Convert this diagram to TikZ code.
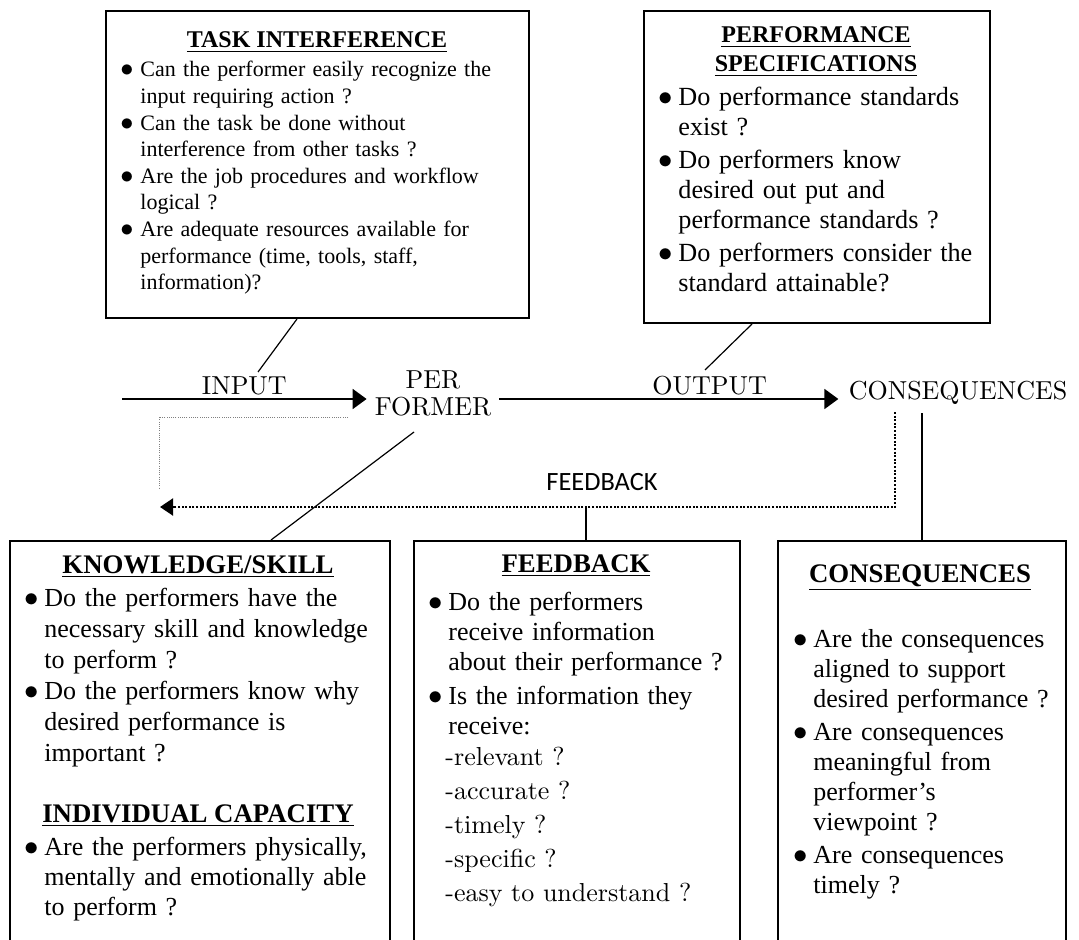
\documentclass[tikz,border=0pt]{standalone}
\usepackage{fontspec}
\setmainfont{Liberation Serif}
\newfontfamily\lmfont[Extension=.otf]{lmroman10-regular}
\newfontfamily\calfont{Carlito}
\usetikzlibrary{arrows.meta}

\newlength{\bind}
\setlength{\bind}{8.5pt}
\newcommand{\bitem}[1]{\hangindent=\bind\hangafter=1\noindent\makebox[\bind][l]{\hspace{-1.5pt}\scalebox{1.2}{$\bullet$}}#1\par}

\tikzset{
  qbox/.style={draw, line width=1pt, anchor=north west, inner sep=0pt},
  ttl/.style={font=\fontsize{12}{14.5}\selectfont\bfseries, anchor=base, inner sep=0pt},
  btl/.style={font=\fontsize{13.4}{16}\selectfont\bfseries, anchor=base, inner sep=0pt},
  qlist/.style={anchor=base west, inner sep=0pt, text width=#1, align=left},
  mid/.style={font=\lmfont\fontsize{13}{13.5}\selectfont, inner sep=0pt},
  arr/.style={line width=1pt, -{Triangle[length=7pt,width=10pt]}},
  conn/.style={line width=0.6pt},
}

\begin{document}
\begin{tikzpicture}[x=0.5pt,y=-0.5pt]
\useasboundingbox (0,0) rectangle (1079,940);

% upper boxes
\node[qbox, minimum width=211.5pt, minimum height=153.5pt] (ti) at (105,10) {};
\node[ttl] (tititle) at (317,48) {\underline{TASK INTERFERENCE}};
\node[qlist=205pt, font=\fontsize{11}{13.3}\selectfont] (tilist) at (123,77) {%
  \bitem{Can the performer easily recognize the\newline input requiring action ?}
  \bitem{Can the task be done without\newline interference from other tasks ?}
  \bitem{Are the job procedures and workflow\newline logical ?}
  \bitem{Are adequate resources available for\newline performance (time, tools, staff,\newline information)?}};

\node[qbox, minimum width=173pt, minimum height=156pt] (ps) at (643,10) {};
\node[ttl, text width=170pt, align=center] (pstitle) at (816,43) {\underline{PERFORMANCE}\\\underline{SPECIFICATIONS}};
\node[qlist=200pt, font=\fontsize{13.1}{15}\selectfont] (pslist) at (661,106) {%
  \setlength\parskip{1.5pt}%
  \bitem{Do performance standards\newline exist ?}
  \bitem{Do performers know\newline desired out put and\newline performance standards ?}
  \bitem{Do performers consider the\newline standard attainable?}};

% flow line
\node[mid, text width=66pt, align=center, anchor=base] (performer) at (433,388) {PER\\FORMER};
\node[mid, inner xsep=5pt, anchor=base] (conseq) at (958,400) {CONSEQUENCES};
\coordinate (instart) at (122,399);
\draw[arr] (instart) -- node[mid, anchor=base, yshift=2.5pt] (input) {INPUT} (performer.west |- instart);
\draw[arr] (performer.east |- instart) -- node[mid, pos=0.62, anchor=base, yshift=2.5pt] (output) {OUTPUT} (conseq.west |- instart);

\coordinate (tihook) at (258,372);
\coordinate (pshook) at (705,370);
\draw[conn] ([xshift=96pt]ti.south west) -- (tihook);
\draw[conn] ([xshift=54.5pt]ps.south west) -- (pshook);

% feedback loop
\coordinate (grayA) at (348,417);
\coordinate (grayB) at (159,488);
\draw[gray, line width=0.5pt, dash pattern=on 0.5pt off 0.6pt] (grayA) -| (grayB);
\coordinate (fbtop) at (895,412);
\coordinate (fbtip) at (160,507);
\draw[line width=1pt, dash pattern=on 1pt off 0.8pt, -{Triangle[length=6.5pt,width=8.5pt]}] (fbtop) |- (fbtip);
\node[font=\calfont\fontsize{13.2}{15}\selectfont, anchor=base, inner sep=0pt] (fblabel) at (602,490) {FEEDBACK};

% lower boxes
\node[qbox, minimum width=190pt, minimum height=215pt] (kbox) at (9,540) {};
\node[btl] (ktitle) at (198,573) {\underline{KNOWLEDGE/SKILL}};
\node[qlist=200pt, font=\fontsize{13}{15.5}\selectfont] (klist) at (27,606) {%
  \bitem{Do the performers have the\newline necessary skill and knowledge\newline to perform ?}
  \bitem{Do the performers know why\newline desired performance is\newline important ?}};
\node[btl] (ictitle) at (198,822) {\underline{INDIVIDUAL CAPACITY}};
\node[qlist=200pt, font=\fontsize{13}{15}\selectfont] (iclist) at (27,855) {%
  \bitem{Are the performers physically,\newline mentally and emotionally able\newline to perform ?}};

\node[qbox, minimum width=163pt, minimum height=215pt] (fbox) at (413,540) {};
\node[btl] (ftitle) at (576,572) {\underline{FEEDBACK}};
\node[qlist=200pt, font=\fontsize{13}{15}\selectfont] (flist) at (431,610) {%
  \setlength\parskip{2pt}%
  \bitem{Do the performers\newline receive information\newline about their performance ?}
  \bitem{Is the information they\newline receive:}};
\node[qlist=150pt, font=\lmfont\fontsize{13}{17}\selectfont] (fdash) at (445,765) {%
  -relevant ?\\-accurate ?\\-timely ?\\-specific ?\\-easy to understand ?};

\node[qbox, minimum width=144pt, minimum height=215pt] (cbox) at (777,540) {};
\node[btl] (ctitle) at (920,582) {\underline{CONSEQUENCES}};
\node[qlist=200pt, font=\fontsize{13}{15}\selectfont] (clist) at (796,647) {%
  \setlength\parskip{1.5pt}%
  \bitem{Are the consequences\newline aligned to support\newline desired performance ?}
  \bitem{Are consequences\newline meaningful from\newline performer’s\newline viewpoint ?}
  \bitem{Are consequences\newline timely ?}};

% links to lower boxes
\coordinate (perfoot) at (414,432);
\coordinate (cfoot) at (922,413);
\draw[conn] (perfoot) -- ([xshift=131pt]kbox.north west);
\draw[conn] ([xshift=86.5pt]fbox.north west) -- ([xshift=86.5pt]fbox.north west |- fbtip);
\draw[conn] ([xshift=72.5pt]cbox.north west) -- (cfoot);
\end{tikzpicture}
\end{document}
